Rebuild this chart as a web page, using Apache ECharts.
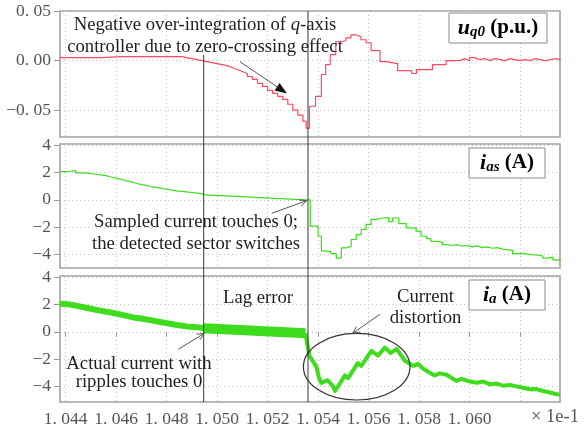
<!DOCTYPE html>
<html>
<head>
<meta charset="utf-8">
<script src="https://cdn.jsdelivr.net/npm/echarts@6/dist/echarts.min.js"></script>
<style>
  html, body { margin: 0; padding: 0; background: #fff; }
  #chart { width: 584px; height: 430px; }
</style>
</head>
<body>
<div id="chart"></div>
<script>
// Time axis (units of 1e-1 s)
const timeRange = [1.04378, 1.06358];
const timeTicks = [1.044, 1.046, 1.048, 1.050, 1.052, 1.054, 1.056, 1.058, 1.060, 1.062];
const timeLabels = [1.044, 1.046, 1.048, 1.050, 1.052, 1.054, 1.056, 1.058, 1.060];
const uq0Ticks = [-0.05, 0, 0.05];
const currentTicks = [-4, -2, 0, 2, 4];
const eventTimes = [1.04947, 1.0536];

// q-axis controller output u_q0 (p.u.), sample-and-hold values [t, value]
const uq0 = [
  [1.04378, 0.003], [1.0446, 0.003], [1.0454, 0.004], [1.0462, 0.004], [1.0472, 0.004],
  [1.0480, 0.004], [1.0486, 0.003], [1.0488, 0.002], [1.0490, 0.001], [1.0492, 0.000],
  [1.0494, -0.001], [1.0496, -0.002], [1.0498, -0.003], [1.0500, -0.004], [1.0502, -0.005],
  [1.0504, -0.007], [1.0506, -0.009], [1.0508, -0.011], [1.0510, -0.013], [1.0512, -0.016],
  [1.0514, -0.019], [1.0516, -0.023], [1.0518, -0.026], [1.0520, -0.030], [1.0522, -0.033],
  [1.0524, -0.036], [1.0526, -0.039], [1.0528, -0.044], [1.0530, -0.050], [1.0532, -0.055],
  [1.0534, -0.061], [1.05353, -0.068], [1.05366, -0.046], [1.05390, -0.036], [1.05413, -0.014],
  [1.05430, -0.004], [1.05448, 0.006], [1.05470, 0.019], [1.05490, 0.020], [1.05510, 0.023],
  [1.05530, 0.026], [1.05550, 0.024], [1.05570, 0.021], [1.05590, 0.018], [1.05610, 0.010],
  [1.05645, -0.001], [1.05670, -0.003], [1.05715, -0.010], [1.05770, -0.013], [1.05790, -0.009],
  [1.05853, -0.004], [1.05907, 0.000], [1.05960, 0.002], [1.0598, 0.000], [1.0600, 0.003],
  [1.0602, 0.001], [1.0604, 0.002], [1.0606, 0.000], [1.0608, 0.002], [1.0610, 0.001],
  [1.0612, 0.000], [1.0614, 0.002], [1.0616, 0.001], [1.0618, 0.000], [1.0620, 0.001],
  [1.0622, 0.000], [1.0624, 0.002], [1.0626, 0.001], [1.0628, 0.000], [1.0630, 0.001],
  [1.0632, 0.002], [1.0634, 0.001], [1.06358, 0.002]
];

// Sampled current i_as (A): held samples, slow ramp, held samples after the sector switch
const iasHeldBefore = [
  [1.04378, 2.07], [1.0440, 2.10], [1.0442, 2.15], [1.0444, 1.98], [1.0446, 1.98],
  [1.0448, 1.92], [1.0450, 1.88], [1.0452, 1.84], [1.0454, 1.78], [1.0456, 1.68],
  [1.0458, 1.60], [1.0460, 1.50], [1.0462, 1.40], [1.0464, 1.32], [1.0466, 1.22],
  [1.0468, 1.12], [1.0470, 1.06], [1.0472, 0.96], [1.0474, 0.92], [1.0476, 0.84],
  [1.0478, 0.78], [1.0480, 0.72], [1.0482, 0.66], [1.0484, 0.62], [1.0486, 0.58],
  [1.0488, 0.54], [1.0490, 0.50], [1.0492, 0.46], [1.0494, 0.40], [1.0495, 0.36]
];
const iasRamp = [[1.0495, 0.36], [1.05353, 0.0]];
const iasHeldAfter = [
  [1.05353, 0.0], [1.05369, -1.93], [1.05400, -2.67], [1.05413, -3.75], [1.05430, -3.80],
  [1.05450, -3.95], [1.05472, -4.27], [1.05492, -3.53], [1.05510, -3.41], [1.05531, -2.91],
  [1.05551, -2.55], [1.05571, -2.17], [1.05590, -1.80], [1.05610, -1.43], [1.05630, -1.35],
  [1.05650, -1.31], [1.05680, -1.60], [1.05695, -1.33], [1.05720, -1.75], [1.05749, -2.05],
  [1.05788, -2.30], [1.05808, -2.67], [1.05830, -2.85], [1.05847, -3.04], [1.05870, -3.10],
  [1.05892, -3.28], [1.0591, -3.35], [1.0593, -3.28], [1.0595, -3.40], [1.0597, -3.35],
  [1.0599, -3.45], [1.0601, -3.38], [1.0603, -3.50], [1.0605, -3.45], [1.0607, -3.55],
  [1.0609, -3.50], [1.0611, -3.62], [1.0613, -3.65], [1.0615, -3.70], [1.0617, -3.95],
  [1.0619, -3.93], [1.0621, -3.98], [1.0623, -4.02], [1.0625, -4.05], [1.0627, -4.12],
  [1.0629, -4.27], [1.0631, -4.20], [1.0633, -4.40], [1.06358, -4.52]
];

// Actual phase current i_a (A), centre of the ripple band
const iaBefore = [
  [1.04378, 2.06], [1.0442, 2.00], [1.0446, 1.85], [1.0450, 1.70], [1.04536, 1.56],
  [1.0458, 1.42], [1.0462, 1.26], [1.04668, 1.06], [1.0470, 0.98], [1.0474, 0.84],
  [1.0478, 0.70], [1.0480, 0.64], [1.0484, 0.50], [1.0488, 0.40], [1.0492, 0.33],
  [1.04947, 0.28]
];
const iaLag = [[1.04947, 0.26], [1.0515, 0.08], [1.0535, -0.11]];
const iaAfter = [
  [1.0535, -0.11], [1.05366, -1.76], [1.05393, -2.55], [1.05405, -3.48], [1.05413, -3.75],
  [1.05438, -3.55], [1.05459, -4.00], [1.05467, -4.34], [1.05486, -3.80], [1.05506, -3.20],
  [1.05519, -3.40], [1.05557, -2.30], [1.05571, -2.50], [1.05611, -1.40], [1.05637, -1.75],
  [1.05664, -1.15], [1.05688, -1.55], [1.05711, -1.25], [1.05743, -2.10], [1.05776, -2.50],
  [1.05796, -2.35], [1.05816, -2.70], [1.05842, -3.00], [1.05862, -3.20], [1.05882, -3.05],
  [1.05909, -3.15], [1.05948, -3.60], [1.05968, -3.45], [1.06001, -3.65], [1.06028, -3.73],
  [1.06054, -3.65], [1.06081, -3.85], [1.06107, -3.80], [1.06133, -3.95], [1.06160, -3.90],
  [1.06186, -4.00], [1.06212, -4.10], [1.06239, -4.21], [1.06265, -4.20], [1.06291, -4.34],
  [1.06318, -4.45], [1.06345, -4.58], [1.06358, -4.60]
];

const RED = '#ff4a63';
const GREEN = '#3edc1c';
const SERIF = 'Liberation Serif';
const INK = '#1e1e1e';

const chart = echarts.init(document.getElementById('chart'), null, { renderer: 'canvas' });

const grids = [
  { left: 60, right: 24, top: 11, height: 126 },
  { left: 60, right: 24, top: 144, height: 124 },
  { left: 60, right: 24, top: 276, height: 126 }
].map(g => Object.assign(g, { show: true, borderColor: '#a2a2a2', borderWidth: 1.6, backgroundColor: '#fff' }));

const dotted = { type: [1, 3], color: '#c2c2c2', width: 1 };

function fmtNum(str) {
  return str.replace('-', '\u2212').replace('.', '. ');
}

function xAxisFor(i) {
  const last = i === 2;
  return {
    type: 'value', gridIndex: i, min: timeRange[0], max: timeRange[1],
    axisLine: { show: false },
    axisTick: { show: last, inside: false, length: 5, customValues: timeTicks, lineStyle: { color: '#999' } },
    axisLabel: {
      show: last, customValues: timeLabels, margin: 8,
      formatter: v => fmtNum(v.toFixed(3)),
      fontFamily: SERIF, fontSize: 17.5, color: '#555'
    },
    splitLine: { show: true, lineStyle: dotted }
  };
}

function yAxisFor(i, min, max, ticks, digits) {
  return {
    type: 'value', gridIndex: i, min: min, max: max,
    axisLine: { show: false },
    axisTick: { show: true, inside: false, length: 6, customValues: ticks, lineStyle: { color: '#999' } },
    axisLabel: {
      customValues: ticks, margin: 9,
      formatter: v => fmtNum(v.toFixed(digits)),
      fontFamily: SERIF, fontSize: 17.5, color: '#555'
    },
    splitLine: { show: true, lineStyle: dotted }
  };
}

function lineSeries(axis, data, color, width, step) {
  return {
    type: 'line', xAxisIndex: axis, yAxisIndex: axis, data: data,
    step: step ? 'end' : false, showSymbol: false, symbol: 'none',
    lineStyle: { color: color, width: width, join: 'round' },
    emphasis: { disabled: true }, animation: false, z: 3
  };
}

chart.setOption({
  animation: false,
  backgroundColor: '#fff',
  grid: grids,
  xAxis: [xAxisFor(0), xAxisFor(1), xAxisFor(2)],
  yAxis: [
    yAxisFor(0, -0.077, 0.05, uq0Ticks, 2),
    yAxisFor(1, -5, 4.1, currentTicks, 0),
    yAxisFor(2, -5.15, 4.1, currentTicks, 0)
  ],
  series: [
    lineSeries(0, uq0, RED, 1.2, true),
    lineSeries(1, iasHeldBefore, GREEN, 1.2, true),
    lineSeries(1, iasRamp, GREEN, 1.2, false),
    lineSeries(1, iasHeldAfter, GREEN, 1.2, true),
    lineSeries(2, iaBefore, GREEN, 6, false),
    lineSeries(2, iaLag, GREEN, 10, false),
    lineSeries(2, iaAfter, GREEN, 4, false)
  ]
});

// ---- annotations ----
function textEl(x, y, text, opts) {
  return {
    type: 'text', x: x, y: y, z: 20, silent: true,
    style: Object.assign({
      text: text, fontFamily: SERIF, fontSize: 18.7, fill: INK,
      textAlign: 'center', textVerticalAlign: 'middle'
    }, opts || {})
  };
}

function arrowEls(x1, y1, x2, y2, filled) {
  const ang = Math.atan2(y2 - y1, x2 - x1);
  const len = filled ? 12 : 7;
  const half = filled ? 4.5 : 3.2;
  const bx = x2 - len * Math.cos(ang), by = y2 - len * Math.sin(ang);
  const px = -Math.sin(ang) * half, py = Math.cos(ang) * half;
  const els = [{
    type: 'line', z: 20, silent: true,
    shape: { x1: x1, y1: y1, x2: filled ? bx : x2, y2: filled ? by : y2 },
    style: { stroke: '#555', lineWidth: 1 }
  }];
  if (filled) {
    els.push({
      type: 'polygon', z: 20, silent: true,
      shape: { points: [[x2, y2], [bx + px, by + py], [bx - px, by - py]] },
      style: { fill: '#111' }
    });
  } else {
    els.push({
      type: 'polyline', z: 20, silent: true,
      shape: { points: [[bx + px, by + py], [x2, y2], [bx - px, by - py]] },
      style: { stroke: '#555', lineWidth: 1, fill: null }
    });
  }
  return els;
}

function labelBox(cx, cy, w, h, text, rich) {
  return [
    {
      type: 'rect', z: 18, silent: true,
      shape: { x: cx - w / 2, y: cy - h / 2, width: w, height: h },
      style: { fill: '#fff', stroke: '#8a8a8a', lineWidth: 1 }
    },
    {
      type: 'text', x: cx, y: cy, z: 19, silent: true,
      style: { text: text, rich: rich, textAlign: 'center', textVerticalAlign: 'middle', fill: '#000' }
    }
  ];
}

const boxRich = {
  v: { fontFamily: SERIF, fontSize: 22, fontWeight: 'bold', fontStyle: 'italic', fill: '#000' },
  s: { fontFamily: SERIF, fontSize: 15, fontWeight: 'bold', fontStyle: 'italic', fill: '#000', padding: [9, 0, 0, 0] },
  u: { fontFamily: SERIF, fontSize: 21, fontWeight: 'bold', fill: '#000' }
};

const noteRich = {
  q: { fontFamily: SERIF, fontSize: 18.7, fontStyle: 'italic', fill: INK }
};

const yTop = chart.convertToPixel({ yAxisIndex: 0 }, 0.05);
const yBottom = chart.convertToPixel({ yAxisIndex: 2 }, -5.15);
const noteBottom = 55;

const elements = [];
eventTimes.forEach((t, k) => {
  const x = chart.convertToPixel({ xAxisIndex: 0 }, t);
  elements.push({
    type: 'line', z: 15, silent: true,
    shape: { x1: x, y1: k === 0 ? noteBottom : yTop, x2: x, y2: yBottom },
    style: { stroke: '#3a3a3a', lineWidth: 1 }
  });
});

elements.push(textEl(205, 36, 'Negative over-integration of {q|q}-axis\ncontroller due to zero-crossing effect',
  { lineHeight: 22, rich: noteRich }));
elements.push(...arrowEls(240, 61.7, 287, 93.5, true));

elements.push(textEl(196, 233, 'Sampled current touches 0;\nthe detected sector switches', { lineHeight: 22.3 }));
elements.push(...arrowEls(271.7, 213.3, 306.7, 200.7, false));

elements.push(textEl(258, 298, 'Lag error'));
elements.push(textEl(139, 373.3, 'Actual current with\nripples touches 0', { lineHeight: 18 }));
elements.push(...arrowEls(178.3, 349.3, 204.3, 333.3, false));

elements.push(textEl(425.5, 307.5, 'Current\ndistortion', { lineHeight: 21.6 }));
elements.push(...arrowEls(380, 314.3, 352.7, 333.3, false));

elements.push({
  type: 'ellipse', z: 16, silent: true,
  shape: { cx: 356.7, cy: 366.7, rx: 53.3, ry: 33.3 },
  style: { fill: null, stroke: '#333', lineWidth: 1.2 }
});

elements.push(...labelBox(498, 28, 98, 30, '{v|u}{s|q0}{u| (p.u.)}', boxRich));
elements.push(...labelBox(507, 163, 76, 30, '{v|i}{s|as}{u| (A)}', boxRich));
elements.push(...labelBox(507, 295, 76, 30, '{v|i}{s|a}{u| (A)}', boxRich));

elements.push(textEl(555, 417, '\u00d7 1e-1', { fontSize: 18.5, fill: '#555' }));

chart.setOption({ graphic: { elements: elements } });
</script>
</body>
</html>
